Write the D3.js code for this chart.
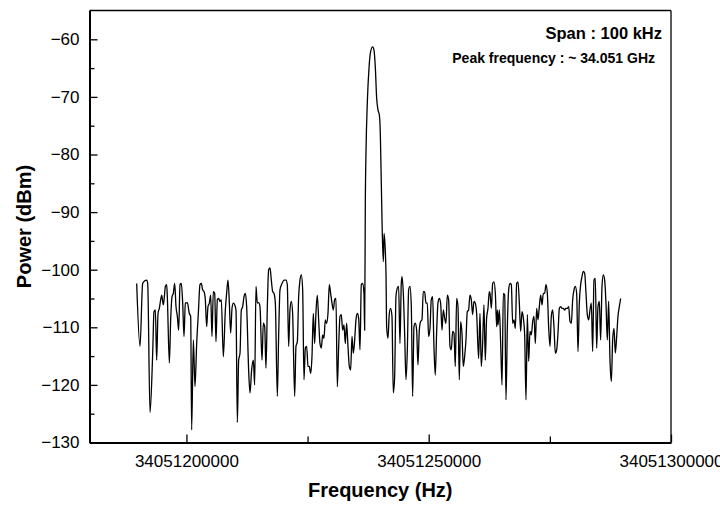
<!DOCTYPE html>
<html lang="en">
<head>
	<meta charset="UTF-8">
	<title>Spectrum</title>
	<style>
		body { margin: 0; background: #fff; }
		text { font-family: Arial, "Liberation Sans", sans-serif; }
	</style>
</head>
<body>
	<script type="text/javascript" src="https://cdn.jsdelivr.net/npm/d3@7/dist/d3.min.js"></script>
	<script type="text/javascript">
		// start of the sweep, data frequencies are given as kHz offsets from it
		var startFreq = 34051180000;

		var freqOffsetKHz = [
			9.74, 10.42, 10.97, 11.45, 11.80, 12.01, 12.49, 13.04, 13.31, 13.59,
			13.86, 14.14, 14.41, 14.69, 14.89, 15.10, 15.24, 15.51, 15.65, 15.93,
			16.06, 16.48, 16.75, 17.03, 17.30, 17.58, 17.85, 18.13, 18.40, 18.68,
			18.95, 19.23, 19.50, 19.78, 20.19, 20.60, 20.88, 21.08, 21.43, 21.77,
			22.12, 22.46, 22.80, 23.08, 23.35, 23.63, 23.90, 24.18, 24.45, 24.73,
			25.00, 25.28, 25.55, 25.83, 26.10, 26.38, 26.65, 26.93, 27.20, 27.62,
			28.03, 28.30, 28.58, 28.86, 29.13, 29.41, 29.68, 29.96, 30.23, 30.51,
			30.78, 31.06, 31.33, 31.61, 31.88, 32.16, 32.43, 32.84, 33.12,
			33.46, 33.81, 34.08, 34.36, 34.63, 34.91, 35.18, 35.60, 35.87, 36.15,
			36.42, 36.70, 36.97, 37.25, 37.52, 37.80, 38.07, 38.35, 38.76, 39.03,
			39.31, 39.72, 40.14, 40.55, 40.82, 41.10, 41.37, 41.65, 41.92, 42.34,
			42.61, 42.89, 43.16, 43.44, 43.71, 43.99, 44.26, 44.54, 44.81, 45.09,
			45.36, 45.64, 45.91, 46.19, 46.46, 46.74, 47.01, 47.29, 47.56, 47.84,
			48.11, 48.39, 48.66, 48.94, 49.21, 49.49, 49.76, 50.04, 50.31, 50.59,
			50.86, 51.14, 51.41, 51.69, 51.96, 52.24, 52.51, 52.79, 53.06, 53.34,
			53.62, 53.89, 54.17, 54.44, 54.72, 54.99, 55.27, 55.54, 55.82, 56.09,
			56.37, 56.64, 56.78,
			// main peak
			56.92, 57.06, 57.34, 57.68, 58.02, 58.44, 58.71, 58.99, 59.26, 59.54,
			59.81, 60.02, 60.16, 60.29, 60.43, 60.64, 60.78, 61.05, 61.19,
			61.32, 61.59, 61.87, 62.14, 62.42, 62.69, 62.97, 63.24, 63.52, 63.79,
			64.07, 64.34, 64.48, 64.76, 65.03, 65.31, 65.58, 65.86, 66.13, 66.41,
			66.68, 66.96, 67.23, 67.51, 67.78, 68.06, 68.33, 68.61, 68.88, 69.16,
			69.43, 69.71, 69.98, 70.26, 70.53, 70.81, 71.08, 71.36, 71.63, 71.91,
			72.19, 72.46, 72.74, 73.01, 73.29, 73.56, 73.84, 74.11, 74.39, 74.66,
			74.94, 75.21, 75.49, 75.76, 76.04, 76.31, 76.59, 76.86, 77.14, 77.41,
			77.69, 77.96, 78.24, 78.51, 78.79, 79.06, 79.34, 79.61, 79.89, 80.30,
			80.58, 80.85, 81.13, 81.40, 81.68, 81.95, 82.23, 82.50,
			82.65, 82.93, 83.20, 83.48, 83.75, 84.03, 84.16, 84.30, 84.58, 84.85,
			85.13, 85.40, 85.68, 85.95, 86.23, 86.50, 86.78, 87.05, 87.33, 87.60,
			87.88, 88.15, 88.43, 88.70, 88.98, 89.25, 89.53, 89.80, 90.08, 90.35,
			90.63, 90.90, 91.18, 91.45, 91.73, 92.00, 92.28, 92.55, 92.83, 93.10,
			93.38, 93.65, 93.93, 94.20, 94.48, 94.75, 95.03, 95.30, 95.58, 95.85,
			96.13, 96.41, 96.68, 96.96, 97.23, 97.51, 97.78, 98.06, 98.33, 98.61,
			98.88, 99.16, 99.43, 99.71, 99.98, 100.26, 100.53, 100.81, 101.08, 101.36,
			101.63, 101.91, 102.18, 102.46, 102.73, 103.01, 103.28, 103.56, 103.83, 104.11,
			104.38, 104.66, 104.93, 105.21, 105.48, 105.76, 106.03, 106.31, 106.58, 106.86,
			107.13, 107.41, 107.69, 107.96, 108.24, 108.51, 108.79, 109.06, 109.34, 109.61
		];

		var powerDbm = [
			-102.4, -113.3, -102.4, -101.9, -101.8, -102.4, -124.8, -114.5, -107.3, -107.0,
			-115.7, -107.6, -106.7, -105.2, -104.4, -105.5, -106.1, -104.1, -102.9, -102.6,
			-104.7, -116.2, -108.7, -104.7, -104.1, -102.4, -106.4, -108.1, -110.5, -102.6,
			-102.4, -105.8, -111.6, -105.8, -105.7, -107.6, -108.1, -127.8, -112.2, -120.3,
			-112.8, -107.6, -102.6, -102.4, -103.5, -103.8, -105.2, -109.9, -106.4, -105.8,
			-104.4, -111.6, -103.8, -104.1, -112.5, -105.2, -105.0, -105.5, -105.2, -115.1,
			-107.0, -104.1, -101.8, -105.8, -111.0, -106.7, -105.8, -106.1, -107.0, -126.5,
			-115.7, -114.5, -107.0, -106.4, -104.7, -104.1, -106.4, -117.4, -121.4,
			-117.4, -115.7, -120.0, -102.9, -105.8, -105.7, -106.4, -115.7, -109.3, -109.9,
			-117.1, -106.4, -100.0, -99.7, -101.8, -103.8, -104.1, -105.8, -122.0, -111.6,
			-103.5, -102.4, -101.8, -101.8, -102.6, -113.3, -107.0, -105.5, -107.6, -122.0,
			-113.3, -112.5, -104.7, -101.8, -100.9, -103.5, -119.1, -113.6, -113.3, -116.8,
			-116.8, -118.0, -115.1, -107.6, -112.8, -107.3, -104.4, -108.7, -112.8, -113.6,
			-111.3, -111.9, -108.7, -109.3, -107.6, -102.6, -104.1, -105.8, -107.0, -105.2,
			-105.0, -120.3, -113.6, -108.1, -107.8, -110.5, -109.6, -112.8, -109.3, -113.3,
			-116.8, -117.4, -111.6, -114.5, -112.2, -108.7, -107.6, -108.4, -113.9, -102.6,
			-102.4, -104.1, -110.5,
			// main peak
			-88.2, -79.5, -70.8, -65.0, -62.1, -61.3, -61.9, -65.0, -70.2, -72.3,
			-73.1, -76.6, -82.4, -88.2, -94.0, -98.6, -93.7, -96.9, -100.9,
			-109.9, -111.9, -107.6, -106.7, -108.1, -121.4, -118.6, -104.7, -103.2, -102.9,
			-112.8, -102.4, -101.2, -104.1, -111.0, -119.1, -114.2, -103.5, -102.9, -106.4,
			-122.0, -109.9, -109.3, -110.5, -116.5, -110.5, -109.0, -108.7, -103.8, -103.8,
			-105.8, -105.8, -111.6, -110.2, -105.2, -104.7, -113.3, -118.3, -111.0, -105.8,
			-105.0, -105.8, -110.5, -107.0, -108.4, -109.3, -104.4, -105.2, -113.3, -113.9,
			-110.7, -111.0, -116.8, -105.0, -106.4, -119.1, -109.0, -111.0, -116.8, -115.1,
			-112.2, -107.3, -107.0, -104.4, -105.2, -107.8, -105.5, -105.8, -107.6, -115.4,
			-107.6, -116.8, -112.8, -106.1, -115.7, -108.4, -106.7, -103.8,
			-104.1, -106.7, -102.4, -102.1, -104.1, -109.9, -107.0, -109.6, -107.0, -112.8,
			-120.0, -104.1, -104.4, -122.6, -109.9, -103.5, -102.4, -102.6, -109.3, -108.7,
			-110.2, -102.4, -102.1, -105.8, -110.7, -107.3, -108.4, -111.3, -122.6, -107.8,
			-115.9, -110.7, -111.3, -109.0, -108.1, -112.8, -106.7, -108.7, -106.4, -104.4,
			-106.1, -104.1, -104.1, -102.6, -104.1, -109.9, -113.3, -108.1, -107.0, -109.9,
			-114.5, -113.9, -111.0, -106.7, -106.4, -106.7, -106.7, -107.0, -106.7, -106.7,
			-106.4, -109.0, -109.3, -105.2, -103.5, -102.9, -104.1, -114.2, -105.8, -102.6,
			-101.2, -100.3, -100.6, -104.1, -107.8, -108.7, -107.0, -105.8, -114.2, -101.8,
			-101.5, -113.6, -106.4, -105.5, -112.2, -102.9, -100.9, -101.8, -105.8, -112.2,
			-105.5, -115.7, -119.4, -112.2, -110.2, -114.5, -111.6, -108.1, -106.4, -105.0
		];

		var xDomain = [34051180000, 34051300000];
		var yDomain = [-130, -55];
		var xTicks = [34051200000, 34051250000, 34051300000];
		var xMinorTicks = [34051225000, 34051275000];
		var yTicks = [-130, -120, -110, -100, -90, -80, -70, -60];
		var yMinorTicks = [-125, -115, -105, -95, -85, -75, -65];

		var spanLabel = "Span : 100 kHz";
		var peakLabel = "Peak frequency : ~ 34.051 GHz";

		var width = 720;
		var height = 505;
		var margin = {left: 89.5, top: 10.5, right: 49, bottom: 62.5};
		var plotW = width - margin.left - margin.right;
		var plotH = height - margin.top - margin.bottom;

		var data = freqOffsetKHz.map(function(k, i){
			return {f: startFreq + k * 1000, p: powerDbm[i]};
		});

		var svg = d3.select("body")
			.append("svg")
			.attr("width", width)
			.attr("height", height);

		var g = svg.append("g")
			.attr("transform", "translate(" + margin.left + "," + margin.top + ")");

		var x = d3.scaleLinear().domain(xDomain).range([0, plotW]);
		var y = d3.scaleLinear().domain(yDomain).range([plotH, 0]);

		// frame: top and right thin
		g.append("line").attr("x1", 0).attr("x2", plotW).attr("y1", 0).attr("y2", 0)
			.attr("stroke", "#000").attr("stroke-width", 1.3);
		g.append("line").attr("x1", plotW).attr("x2", plotW).attr("y1", 0).attr("y2", plotH)
			.attr("stroke", "#000").attr("stroke-width", 1.3);

		// minor ticks first, major axes on top
		g.append("g")
			.attr("transform", "translate(0," + plotH + ")")
			.call(d3.axisBottom(x).tickValues(xMinorTicks).tickSize(-6).tickFormat(""))
			.call(function(a){ a.select(".domain").remove(); })
			.selectAll("line").attr("stroke-width", 1.3);

		g.append("g")
			.call(d3.axisLeft(y).tickValues(yMinorTicks).tickSize(-5).tickFormat(""))
			.call(function(a){ a.select(".domain").remove(); })
			.selectAll("line").attr("stroke-width", 1.3);

		var xAxis = g.append("g")
			.attr("transform", "translate(0," + plotH + ")")
			.call(d3.axisBottom(x).tickValues(xTicks).tickSize(-8).tickSizeOuter(0)
				.tickPadding(12).tickFormat(d3.format("d")));
		xAxis.select(".domain").attr("stroke-width", 2);
		xAxis.selectAll(".tick line").attr("stroke-width", 1.3);
		xAxis.selectAll("text").attr("font-size", "17px").attr("fill", "#000")
			.style("font-family", "Arial, 'Liberation Sans', sans-serif");

		var yAxis = g.append("g")
			.call(d3.axisLeft(y).tickValues(yTicks).tickSize(-8).tickSizeOuter(0)
				.tickPadding(10));
		yAxis.select(".domain").attr("stroke-width", 2);
		yAxis.selectAll(".tick line").attr("stroke-width", 1.3);
		yAxis.selectAll("text").attr("font-size", "17px").attr("fill", "#000")
			.style("font-family", "Arial, 'Liberation Sans', sans-serif");

		// spectrum trace
		var line = d3.line()
			.x(function(d){ return x(d.f); })
			.y(function(d){ return y(d.p); })
			.curve(d3.curveMonotoneX);

		g.append("path")
			.datum(data)
			.attr("fill", "none")
			.attr("stroke", "#000")
			.attr("stroke-width", 1.3)
			.attr("d", line);

		// axis titles
		svg.append("text")
			.attr("x", margin.left + plotW / 2)
			.attr("y", 497)
			.attr("text-anchor", "middle")
			.attr("font-size", "20px")
			.attr("font-weight", "bold")
			.text("Frequency (Hz)");

		svg.append("text")
			.attr("transform", "translate(31," + (margin.top + plotH / 2) + ") rotate(-90)")
			.attr("text-anchor", "middle")
			.attr("font-size", "20px")
			.attr("font-weight", "bold")
			.text("Power (dBm)");

		// annotations
		svg.append("text")
			.attr("x", margin.left + plotW - 9)
			.attr("y", 39)
			.attr("text-anchor", "end")
			.attr("font-size", "16.5px")
			.attr("font-weight", "bold")
			.text(spanLabel);

		svg.append("text")
			.attr("x", margin.left + plotW - 16)
			.attr("y", 63)
			.attr("text-anchor", "end")
			.attr("font-size", "14px")
			.attr("font-weight", "bold")
			.text(peakLabel);
	</script>
</body>
</html>
